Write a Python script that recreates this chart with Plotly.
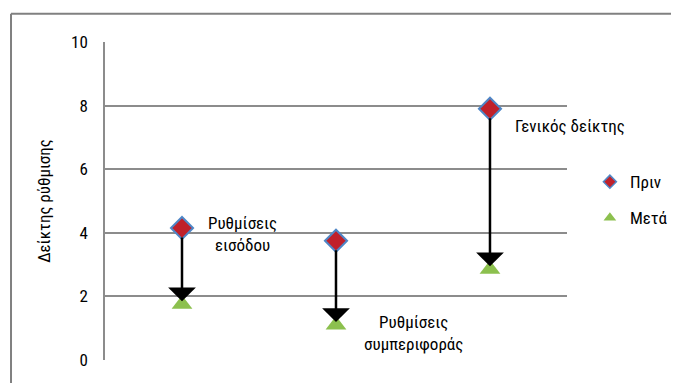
import plotly.graph_objects as go

# Δεδομένα
categories = ["Ρυθμίσεις εισόδου", "Ρυθμίσεις συμπεριφοράς", "Γενικός δείκτης"]
prin = [4.15, 3.75, 7.9]
meta = [1.75, 1.1, 2.85]
labels = ["Ρυθμίσεις<br>εισόδου", "Ρυθμίσεις<br>συμπεριφοράς", "Γενικός δείκτης"]
y_ticks = [0, 2, 4, 6, 8, 10]

FONT = "Liberation Sans Narrow, Arial Narrow, Roboto Condensed, sans-serif"
GRID = "#8c8c8c"
RED, BLUE, GREEN = "#c0202a", "#4f86c6", "#8cc04e"

fig = go.Figure()

fig.add_trace(go.Scatter(x=categories, y=prin, mode="markers", showlegend=False,
                         marker=dict(symbol="diamond", size=17, color=RED,
                                     line=dict(color=BLUE, width=2))))
fig.add_trace(go.Scatter(x=categories, y=meta, mode="markers", showlegend=False,
                         marker=dict(symbol="triangle-up", size=18, color=GREEN)))
# υπόμνημα με μικρότερα σύμβολα
fig.add_trace(go.Scatter(x=[None], y=[None], mode="markers", name="Πριν", legendgroup="a",
                         marker=dict(symbol="diamond", size=10, color=RED,
                                     line=dict(color=BLUE, width=1.5))))
fig.add_trace(go.Scatter(x=[None], y=[None], mode="markers", name="Μετά", legendgroup="b",
                         marker=dict(symbol="triangle-up", size=11, color=GREEN)))

# βέλη από "Πριν" προς "Μετά"
for cat, p, m in zip(categories, prin, meta):
    fig.add_annotation(x=cat, y=m, ax=cat, ay=p, xref="x", yref="y",
                       axref="x", ayref="y", text="", showarrow=True,
                       arrowhead=1, arrowwidth=2.5, arrowsize=1.85,
                       arrowcolor="black", standoff=3, startstandoff=8)

# ετικέτες σημείων
fig.add_annotation(x=categories[0], y=prin[0], text=labels[0], xshift=60, yshift=-6,
                   showarrow=False)
fig.add_annotation(x=categories[1], y=meta[1], text=labels[1], xshift=78, yshift=-8,
                   showarrow=False)
fig.add_annotation(x=categories[2], y=prin[2], text=labels[2], xshift=23, yshift=-17,
                   showarrow=False, xanchor="left")

# πλαίσιο γραφήματος: αριστερή και πάνω πλευρά
fig.add_shape(type="line", xref="paper", yref="paper", layer="below",
              x0=0.003, x1=0.003, y0=0, y1=0.995,
              line=dict(color="#808080", width=2))
fig.add_shape(type="line", xref="paper", yref="paper", layer="below",
              x0=0.003, x1=1, y0=0.995, y1=0.995,
              line=dict(color="#808080", width=2))

fig.update_layout(
    width=671, height=375,
    margin=dict(l=1, r=0, t=4, b=0, autoexpand=False),
    plot_bgcolor="rgba(0,0,0,0)", paper_bgcolor="white",
    font=dict(family=FONT, size=17, color="black"),
    showlegend=True,
    legend=dict(x=0.867, y=0.59, xanchor="left", yanchor="top",
                tracegroupgap=11, itemwidth=30, bgcolor="rgba(0,0,0,0)"),
    xaxis=dict(domain=[0.1433, 0.8328], showticklabels=False, showgrid=False,
               showline=False, zeroline=False, range=[-0.5, 2.5], automargin=False),
    yaxis=dict(domain=[0.0620, 0.9191], range=[0, 10], tickvals=y_ticks,
               showgrid=True, gridcolor=GRID, gridwidth=1.5, showline=True,
               linecolor=GRID, linewidth=1.5, zeroline=False, ticks="",
               ticklabelstandoff=12, automargin=False,
               title=dict(text="Δείκτης ρύθμισης", font=dict(size=17), standoff=16)),
)

fig.write_html("out.html")
